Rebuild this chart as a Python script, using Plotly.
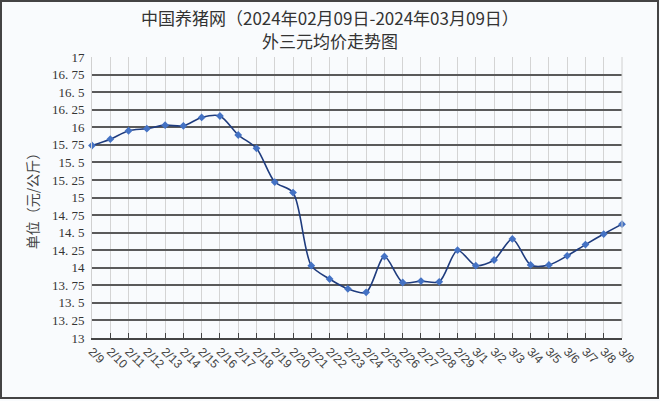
import plotly.graph_objects as go

dates = ["2/9", "2/10", "2/11", "2/12", "2/13", "2/14", "2/15", "2/16", "2/17", "2/18",
         "2/19", "2/20", "2/21", "2/22", "2/23", "2/24", "2/25", "2/26", "2/27", "2/28",
         "2/29", "3/1", "3/2", "3/3", "3/4", "3/5", "3/6", "3/7", "3/8", "3/9"]
prices = [15.74, 15.83, 15.95, 15.98, 16.03, 16.02, 16.14, 16.16, 15.89, 15.70,
          15.22, 15.07, 14.03, 13.84, 13.70, 13.65, 14.16, 13.79, 13.81, 13.80,
          14.25, 14.03, 14.11, 14.41, 14.04, 14.04, 14.17, 14.33, 14.48, 14.62]
y_ticks = [13, 13.25, 13.5, 13.75, 14, 14.25, 14.5, 14.75, 15, 15.25, 15.5, 15.75,
           16, 16.25, 16.5, 16.75, 17]
y_tick_text = ["13", "13. 25", "13. 5", "13. 75", "14", "14. 25", "14. 5", "14. 75",
               "15", "15. 25", "15. 5", "15. 75", "16", "16. 25", "16. 5", "16. 75", "17"]

title_line1 = "中国养猪网（2024年02月09日-2024年03月09日）"
title_line2 = "外三元均价走势图"
y_title = "单位（元/公斤）"

fig = go.Figure()
fig.add_trace(go.Scatter(
    x=list(range(len(dates))), y=prices, mode="lines+markers",
    line=dict(color="#1f3c7e", width=1.6, shape="spline", smoothing=0.8),
    marker=dict(symbol="diamond", size=6, color="#4472c4"),
    showlegend=False, cliponaxis=False,
))

W, H = 660, 401
ml, mr, mt, mb = 92, 38, 57, 63
pw, ph = W - ml - mr, H - mt - mb

def px2paper_x(px):
    return (px - ml) / pw

def px2paper_y(py):
    return (H - mb - py) / ph

fig.update_layout(
    width=W, height=H,
    margin=dict(l=ml, r=mr, t=mt, b=mb),
    paper_bgcolor="#f9fbfd", plot_bgcolor="#f9fbfd",
    font=dict(family="Noto Sans CJK SC, DejaVu Serif", color="#333333"),
    xaxis=dict(
        range=[0, len(dates) - 1], tickmode="array",
        tickvals=list(range(len(dates))), ticktext=dates,
        tickangle=45, ticks="inside", ticklen=5, tickcolor="#444444",
        showline=True, linecolor="#444444", linewidth=1.5,
        showgrid=True, gridcolor="#d4d4d4", gridwidth=1,
        zeroline=False,
        tickfont=dict(size=12, family="Liberation Sans, DejaVu Sans", color="#444444"),
    ),
    yaxis=dict(
        range=[13, 17], tickmode="array", tickvals=y_ticks, ticktext=y_tick_text,
        showline=True, linecolor="#d0d0d0", linewidth=1,
        showgrid=True, gridcolor="#5a5a5a", gridwidth=1.5,
        zeroline=False, ticks="outside", ticklen=4, tickcolor="rgba(0,0,0,0)",
        tickfont=dict(size=13, family="Liberation Serif, DejaVu Serif", color="#333333"),
        title=dict(text=y_title, standoff=10,
                   font=dict(size=14, family="Noto Sans CJK SC", color="#444444")),
    ),
    annotations=[
        dict(text=title_line1, xref="paper", yref="paper", x=px2paper_x(330),
             y=px2paper_y(18), xanchor="center", yanchor="middle", showarrow=False,
             font=dict(size=17, color="#333333", family="Noto Sans CJK SC")),
        dict(text=title_line2, xref="paper", yref="paper", x=px2paper_x(330),
             y=px2paper_y(41), xanchor="center", yanchor="middle", showarrow=False,
             font=dict(size=17, color="#333333", family="Noto Sans CJK SC")),
    ],
    shapes=[
        dict(type="line", xref="paper", yref="paper", x0=1, x1=1, y0=0, y1=1,
             line=dict(color="#d0d0d0", width=1)),
        dict(type="rect", xref="paper", yref="paper",
             x0=px2paper_x(1), x1=px2paper_x(658), y0=px2paper_y(398), y1=px2paper_y(1),
             line=dict(color="#444444", width=2), layer="above"),
    ],
)

fig.write_html("out.html", config={"displayModeBar": False},
               post_script="document.body.style.margin='0';document.body.style.overflow='hidden';")
